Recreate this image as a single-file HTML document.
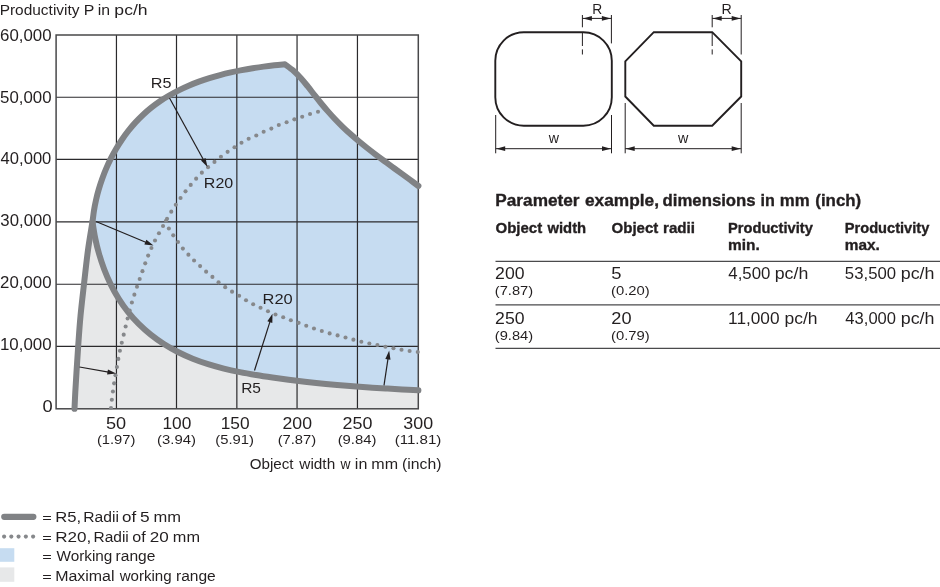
<!DOCTYPE html><html><head><meta charset="utf-8"><title>Productivity chart</title>
<style>html,body{margin:0;padding:0;background:#fff}svg{display:block}text{font-family:"Liberation Sans",sans-serif;fill:#231f20}</style></head><body>
<svg width="940" height="587" viewBox="0 0 940 587">
<rect width="940" height="587" fill="#fff"/>
<path d="M74.50,408.80 C74.63,406.00 74.97,398.13 75.30,392.00 C75.63,385.87 76.02,379.67 76.50,372.00 C76.98,364.33 77.53,355.33 78.20,346.00 C78.87,336.67 79.53,326.33 80.50,316.00 C81.47,305.67 82.75,295.00 84.00,284.00 C85.25,273.00 86.58,260.42 88.00,250.00 C89.42,239.58 91.75,226.25 92.50,221.50 C92.93,224.18 94.00,232.22 95.08,237.56 C96.16,242.90 97.44,248.27 98.96,253.54 C100.47,258.81 102.20,264.07 104.15,269.20 C106.11,274.33 108.29,279.41 110.70,284.31 C113.11,289.21 115.75,294.03 118.62,298.62 C121.50,303.22 124.60,307.69 127.95,311.91 C131.29,316.13 134.89,320.15 138.69,323.94 C142.49,327.73 146.53,331.29 150.73,334.64 C154.92,337.98 159.33,341.11 163.87,344.01 C168.40,346.91 173.12,349.59 177.93,352.04 C182.74,354.50 187.70,356.72 192.72,358.74 C197.75,360.77 202.89,362.55 208.08,364.19 C213.27,365.83 218.55,367.26 223.86,368.59 C229.17,369.92 234.55,371.07 239.94,372.15 C245.32,373.23 250.75,374.17 256.17,375.08 C261.58,375.99 267.01,376.80 272.42,377.59 C277.83,378.37 283.23,379.10 288.62,379.80 C294.02,380.49 299.41,381.13 304.80,381.74 C310.19,382.35 315.57,382.92 320.96,383.45 C326.34,383.99 331.73,384.48 337.11,384.95 C342.50,385.42 347.89,385.86 353.28,386.27 C358.68,386.68 364.07,387.07 369.48,387.44 C374.89,387.81 380.30,388.15 385.72,388.48 C391.15,388.81 396.58,389.12 402.02,389.42 C407.47,389.73 415.67,390.15 418.40,390.30 L418.3,390.3 L418.3,408.8 L74.5,408.8 Z" fill="#e7e8e9"/>
<path d="M92.50,221.50 C92.74,219.69 93.36,214.26 93.95,210.66 C94.54,207.05 95.25,203.44 96.06,199.86 C96.87,196.28 97.79,192.71 98.82,189.18 C99.84,185.64 100.98,182.13 102.22,178.66 C103.46,175.19 104.80,171.75 106.25,168.37 C107.70,164.98 109.25,161.64 110.90,158.36 C112.56,155.08 114.31,151.85 116.17,148.70 C118.02,145.54 119.98,142.45 122.03,139.44 C124.08,136.43 126.23,133.49 128.48,130.65 C130.73,127.80 133.07,125.04 135.51,122.38 C137.95,119.72 140.48,117.14 143.11,114.69 C145.73,112.23 148.46,109.88 151.27,107.64 C154.07,105.40 156.98,103.27 159.95,101.25 C162.93,99.23 165.99,97.31 169.11,95.50 C172.24,93.68 175.44,91.96 178.69,90.34 C181.94,88.72 185.27,87.19 188.63,85.75 C191.99,84.31 195.42,82.96 198.87,81.69 C202.33,80.42 205.84,79.24 209.37,78.13 C212.90,77.02 216.47,75.99 220.05,75.03 C223.63,74.07 227.25,73.19 230.87,72.36 C234.49,71.54 238.13,70.79 241.76,70.09 C245.40,69.40 249.05,68.77 252.68,68.18 C256.32,67.60 259.95,67.08 263.57,66.61 C267.18,66.13 270.78,65.71 274.36,65.32 C277.93,64.94 283.23,64.47 285.00,64.30 C286.41,65.38 290.83,68.43 293.48,70.76 C296.14,73.09 298.56,75.66 300.94,78.27 C303.32,80.89 305.53,83.67 307.77,86.44 C310.00,89.21 312.13,92.08 314.34,94.88 C316.55,97.67 318.76,100.48 321.03,103.23 C323.29,105.97 325.59,108.69 327.94,111.36 C330.29,114.03 332.68,116.66 335.13,119.23 C337.57,121.81 340.07,124.33 342.63,126.80 C345.18,129.27 347.79,131.68 350.45,134.05 C353.10,136.42 355.81,138.74 358.54,141.02 C361.28,143.31 364.06,145.55 366.86,147.76 C369.66,149.98 372.50,152.16 375.34,154.32 C378.19,156.48 381.07,158.61 383.94,160.74 C386.82,162.86 389.72,164.96 392.60,167.07 C395.49,169.17 398.39,171.26 401.27,173.36 C404.15,175.45 407.03,177.54 409.88,179.65 C412.74,181.76 416.98,184.94 418.40,186.00 L418.3,186.0 L418.3,390.3 L418.40,390.30 C415.67,390.15 407.47,389.73 402.02,389.42 C396.58,389.12 391.15,388.81 385.72,388.48 C380.30,388.15 374.89,387.81 369.48,387.44 C364.07,387.07 358.68,386.68 353.28,386.27 C347.89,385.86 342.50,385.42 337.11,384.95 C331.73,384.48 326.34,383.99 320.96,383.45 C315.57,382.92 310.19,382.35 304.80,381.74 C299.41,381.13 294.02,380.49 288.62,379.80 C283.23,379.10 277.83,378.37 272.42,377.59 C267.01,376.80 261.58,375.99 256.17,375.08 C250.75,374.17 245.32,373.23 239.94,372.15 C234.55,371.07 229.17,369.92 223.86,368.59 C218.55,367.26 213.27,365.83 208.08,364.19 C202.89,362.55 197.75,360.77 192.72,358.74 C187.70,356.72 182.74,354.50 177.93,352.04 C173.12,349.59 168.40,346.91 163.87,344.01 C159.33,341.11 154.92,337.98 150.73,334.64 C146.53,331.29 142.49,327.73 138.69,323.94 C134.89,320.15 131.29,316.13 127.95,311.91 C124.60,307.69 121.50,303.22 118.62,298.62 C115.75,294.03 113.11,289.21 110.70,284.31 C108.29,279.41 106.11,274.33 104.15,269.20 C102.20,264.07 100.47,258.81 98.96,253.54 C97.44,248.27 96.16,242.90 95.08,237.56 C94.00,232.22 92.93,224.18 92.50,221.50 Z" fill="#c6dcf1"/>
<line x1="116.45" y1="35.0" x2="116.45" y2="408.8" stroke="#2b2a2c" stroke-width="1.2"/>
<line x1="176.5" y1="35.0" x2="176.5" y2="408.8" stroke="#2b2a2c" stroke-width="1.2"/>
<line x1="236.85" y1="35.0" x2="236.85" y2="408.8" stroke="#2b2a2c" stroke-width="1.2"/>
<line x1="297.05" y1="35.0" x2="297.05" y2="408.8" stroke="#2b2a2c" stroke-width="1.2"/>
<line x1="357.45" y1="35.0" x2="357.45" y2="408.8" stroke="#2b2a2c" stroke-width="1.2"/>
<line x1="56.1" y1="97.25" x2="418.3" y2="97.25" stroke="#2b2a2c" stroke-width="1.2"/>
<line x1="56.1" y1="159.45" x2="418.3" y2="159.45" stroke="#2b2a2c" stroke-width="1.2"/>
<line x1="56.1" y1="221.95" x2="418.3" y2="221.95" stroke="#2b2a2c" stroke-width="1.2"/>
<line x1="56.1" y1="284.25" x2="418.3" y2="284.25" stroke="#2b2a2c" stroke-width="1.2"/>
<line x1="56.1" y1="346.45" x2="418.3" y2="346.45" stroke="#2b2a2c" stroke-width="1.2"/>
<rect x="56.1" y="35.0" width="362.20" height="373.80" fill="none" stroke="#48484a" stroke-width="1.5"/>
<path d="M74.50,408.80 C74.63,406.00 74.97,398.13 75.30,392.00 C75.63,385.87 76.02,379.67 76.50,372.00 C76.98,364.33 77.53,355.33 78.20,346.00 C78.87,336.67 79.53,326.33 80.50,316.00 C81.47,305.67 82.75,295.00 84.00,284.00 C85.25,273.00 86.58,260.42 88.00,250.00 C89.42,239.58 91.51,228.06 92.50,221.50 C93.49,214.94 93.36,214.26 93.95,210.66 C94.54,207.05 95.25,203.44 96.06,199.86 C96.87,196.28 97.79,192.71 98.82,189.18 C99.84,185.64 100.98,182.13 102.22,178.66 C103.46,175.19 104.80,171.75 106.25,168.37 C107.70,164.98 109.25,161.64 110.90,158.36 C112.56,155.08 114.31,151.85 116.17,148.70 C118.02,145.54 119.98,142.45 122.03,139.44 C124.08,136.43 126.23,133.49 128.48,130.65 C130.73,127.80 133.07,125.04 135.51,122.38 C137.95,119.72 140.48,117.14 143.11,114.69 C145.73,112.23 148.46,109.88 151.27,107.64 C154.07,105.40 156.98,103.27 159.95,101.25 C162.93,99.23 165.99,97.31 169.11,95.50 C172.24,93.68 175.44,91.96 178.69,90.34 C181.94,88.72 185.27,87.19 188.63,85.75 C191.99,84.31 195.42,82.96 198.87,81.69 C202.33,80.42 205.84,79.24 209.37,78.13 C212.90,77.02 216.47,75.99 220.05,75.03 C223.63,74.07 227.25,73.19 230.87,72.36 C234.49,71.54 238.13,70.79 241.76,70.09 C245.40,69.40 249.05,68.77 252.68,68.18 C256.32,67.60 259.95,67.08 263.57,66.61 C267.18,66.13 270.78,65.71 274.36,65.32 C277.93,64.94 283.23,64.47 285.00,64.30 C286.41,65.38 290.83,68.43 293.48,70.76 C296.14,73.09 298.56,75.66 300.94,78.27 C303.32,80.89 305.53,83.67 307.77,86.44 C310.00,89.21 312.13,92.08 314.34,94.88 C316.55,97.67 318.76,100.48 321.03,103.23 C323.29,105.97 325.59,108.69 327.94,111.36 C330.29,114.03 332.68,116.66 335.13,119.23 C337.57,121.81 340.07,124.33 342.63,126.80 C345.18,129.27 347.79,131.68 350.45,134.05 C353.10,136.42 355.81,138.74 358.54,141.02 C361.28,143.31 364.06,145.55 366.86,147.76 C369.66,149.98 372.50,152.16 375.34,154.32 C378.19,156.48 381.07,158.61 383.94,160.74 C386.82,162.86 389.72,164.96 392.60,167.07 C395.49,169.17 398.39,171.26 401.27,173.36 C404.15,175.45 407.03,177.54 409.88,179.65 C412.74,181.76 416.98,184.94 418.40,186.00" fill="none" stroke="#808285" stroke-width="6.0" stroke-linecap="round" stroke-linejoin="round"/>
<path d="M92.50,221.50 C92.93,224.18 94.00,232.22 95.08,237.56 C96.16,242.90 97.44,248.27 98.96,253.54 C100.47,258.81 102.20,264.07 104.15,269.20 C106.11,274.33 108.29,279.41 110.70,284.31 C113.11,289.21 115.75,294.03 118.62,298.62 C121.50,303.22 124.60,307.69 127.95,311.91 C131.29,316.13 134.89,320.15 138.69,323.94 C142.49,327.73 146.53,331.29 150.73,334.64 C154.92,337.98 159.33,341.11 163.87,344.01 C168.40,346.91 173.12,349.59 177.93,352.04 C182.74,354.50 187.70,356.72 192.72,358.74 C197.75,360.77 202.89,362.55 208.08,364.19 C213.27,365.83 218.55,367.26 223.86,368.59 C229.17,369.92 234.55,371.07 239.94,372.15 C245.32,373.23 250.75,374.17 256.17,375.08 C261.58,375.99 267.01,376.80 272.42,377.59 C277.83,378.37 283.23,379.10 288.62,379.80 C294.02,380.49 299.41,381.13 304.80,381.74 C310.19,382.35 315.57,382.92 320.96,383.45 C326.34,383.99 331.73,384.48 337.11,384.95 C342.50,385.42 347.89,385.86 353.28,386.27 C358.68,386.68 364.07,387.07 369.48,387.44 C374.89,387.81 380.30,388.15 385.72,388.48 C391.15,388.81 396.58,389.12 402.02,389.42 C407.47,389.73 415.67,390.15 418.40,390.30" fill="none" stroke="#808285" stroke-width="6.0" stroke-linecap="round" stroke-linejoin="round"/>
<g fill="#86888b"><circle cx="111.00" cy="408.00" r="2.05"/><circle cx="111.84" cy="399.76" r="2.05"/><circle cx="112.92" cy="391.55" r="2.05"/><circle cx="114.10" cy="383.36" r="2.05"/><circle cx="115.47" cy="375.19" r="2.05"/><circle cx="116.92" cy="367.04" r="2.05"/><circle cx="118.34" cy="358.88" r="2.05"/><circle cx="119.91" cy="350.75" r="2.05"/><circle cx="121.76" cy="342.68" r="2.05"/><circle cx="123.71" cy="334.63" r="2.05"/><circle cx="125.63" cy="326.57" r="2.05"/><circle cx="127.62" cy="318.53" r="2.05"/><circle cx="129.67" cy="310.51" r="2.05"/><circle cx="131.89" cy="302.53" r="2.05"/><circle cx="134.37" cy="294.63" r="2.05"/><circle cx="136.99" cy="286.78" r="2.05"/><circle cx="139.69" cy="278.95" r="2.05"/><circle cx="142.45" cy="271.14" r="2.05"/><circle cx="145.22" cy="263.34" r="2.05"/><circle cx="148.16" cy="255.60" r="2.05"/><circle cx="151.42" cy="247.99" r="2.05"/><circle cx="155.00" cy="240.52" r="2.05"/><circle cx="158.96" cy="233.25" r="2.05"/><circle cx="163.04" cy="226.04" r="2.05"/><circle cx="167.05" cy="218.80" r="2.05"/><circle cx="171.27" cy="211.67" r="2.05"/><circle cx="175.80" cy="204.74" r="2.05"/><circle cx="180.56" cy="197.97" r="2.05"/><circle cx="185.52" cy="191.33" r="2.05"/><circle cx="190.72" cy="184.89" r="2.05"/><circle cx="196.14" cy="178.63" r="2.05"/><circle cx="201.86" cy="172.65" r="2.05"/><circle cx="208.05" cy="167.15" r="2.05"/><circle cx="214.47" cy="161.91" r="2.05"/><circle cx="220.95" cy="156.76" r="2.05"/><circle cx="227.62" cy="151.86" r="2.05"/><circle cx="234.51" cy="147.27" r="2.05"/><circle cx="241.49" cy="142.80" r="2.05"/><circle cx="248.66" cy="138.68" r="2.05"/><circle cx="256.30" cy="135.49" r="2.05"/><circle cx="263.66" cy="131.70" r="2.05"/><circle cx="271.34" cy="128.60" r="2.05"/><circle cx="278.79" cy="124.98" r="2.05"/><circle cx="286.61" cy="122.28" r="2.05"/><circle cx="294.36" cy="119.37" r="2.05"/><circle cx="302.20" cy="116.68" r="2.05"/><circle cx="310.03" cy="113.99" r="2.05"/><circle cx="318.00" cy="111.75" r="2.05"/></g>
<g fill="#86888b"><circle cx="166.00" cy="220.75" r="2.05"/><circle cx="168.85" cy="228.43" r="2.05"/><circle cx="173.23" cy="235.34" r="2.05"/><circle cx="178.00" cy="242.01" r="2.05"/><circle cx="182.87" cy="248.60" r="2.05"/><circle cx="188.41" cy="254.64" r="2.05"/><circle cx="194.06" cy="260.57" r="2.05"/><circle cx="200.09" cy="266.12" r="2.05"/><circle cx="206.12" cy="271.67" r="2.05"/><circle cx="212.41" cy="276.92" r="2.05"/><circle cx="218.56" cy="282.35" r="2.05"/><circle cx="225.20" cy="287.14" r="2.05"/><circle cx="232.05" cy="291.64" r="2.05"/><circle cx="239.13" cy="295.77" r="2.05"/><circle cx="246.02" cy="300.21" r="2.05"/><circle cx="253.17" cy="304.20" r="2.05"/><circle cx="260.54" cy="307.78" r="2.05"/><circle cx="267.97" cy="311.26" r="2.05"/><circle cx="275.48" cy="314.54" r="2.05"/><circle cx="283.19" cy="317.30" r="2.05"/><circle cx="290.84" cy="320.26" r="2.05"/><circle cx="298.61" cy="322.86" r="2.05"/><circle cx="306.25" cy="325.81" r="2.05"/><circle cx="313.97" cy="328.57" r="2.05"/><circle cx="321.81" cy="330.94" r="2.05"/><circle cx="329.63" cy="333.40" r="2.05"/><circle cx="337.58" cy="335.39" r="2.05"/><circle cx="345.52" cy="337.44" r="2.05"/><circle cx="353.41" cy="339.66" r="2.05"/><circle cx="361.34" cy="341.71" r="2.05"/><circle cx="369.34" cy="343.47" r="2.05"/><circle cx="377.40" cy="344.98" r="2.05"/><circle cx="385.41" cy="346.73" r="2.05"/><circle cx="393.46" cy="348.24" r="2.05"/><circle cx="401.52" cy="349.75" r="2.05"/><circle cx="409.61" cy="351.02" r="2.05"/><circle cx="417.75" cy="352.00" r="2.05"/></g>
<line x1="169.5" y1="98" x2="203.74" y2="160.17" stroke="#231f20" stroke-width="1.2"/><polygon points="207.50,167.00 200.98,160.55 205.53,158.04" fill="#231f20"/>
<line x1="96" y1="221.5" x2="146.30" y2="242.50" stroke="#231f20" stroke-width="1.2"/><polygon points="153.50,245.50 144.38,244.51 146.38,239.71" fill="#231f20"/>
<line x1="79.5" y1="367" x2="108.52" y2="372.14" stroke="#231f20" stroke-width="1.2"/><polygon points="116.20,373.50 107.08,374.53 107.99,369.41" fill="#231f20"/>
<line x1="254.5" y1="370.5" x2="270.14" y2="321.18" stroke="#231f20" stroke-width="1.2"/><polygon points="272.50,313.75 272.32,322.92 267.36,321.35" fill="#231f20"/>
<line x1="384" y1="385.4" x2="388.05" y2="358.31" stroke="#231f20" stroke-width="1.2"/><polygon points="389.20,350.60 390.47,359.69 385.33,358.92" fill="#231f20"/>
<text y="14.80" font-weight="400"><tspan x="-0.39" font-size="14.9" textLength="79.89" lengthAdjust="spacingAndGlyphs">Productivity</tspan> <tspan x="83.78" font-size="14.9" textLength="10.61" lengthAdjust="spacingAndGlyphs">P</tspan> <tspan x="97.65" font-size="14.9" textLength="12.29" lengthAdjust="spacingAndGlyphs">in</tspan> <tspan x="114.38" font-size="14.9" textLength="33.30" lengthAdjust="spacingAndGlyphs">pc/h</tspan></text>
<text y="40.70" font-weight="400"><tspan x="0.11" font-size="15.8" textLength="51.48" lengthAdjust="spacingAndGlyphs">60,000</tspan></text>
<text y="102.54" font-weight="400"><tspan x="0.11" font-size="15.8" textLength="51.48" lengthAdjust="spacingAndGlyphs">50,000</tspan></text>
<text y="164.38" font-weight="400"><tspan x="0.61" font-size="15.8" textLength="50.72" lengthAdjust="spacingAndGlyphs">40,000</tspan></text>
<text y="226.22" font-weight="400"><tspan x="0.36" font-size="15.8" textLength="51.22" lengthAdjust="spacingAndGlyphs">30,000</tspan></text>
<text y="288.06" font-weight="400"><tspan x="0.11" font-size="15.8" textLength="51.48" lengthAdjust="spacingAndGlyphs">20,000</tspan></text>
<text y="349.90" font-weight="400"><tspan x="-0.10" font-size="15.8" textLength="51.70" lengthAdjust="spacingAndGlyphs">10,000</tspan></text>
<text y="411.74" font-weight="400"><tspan x="42.51" font-size="15.8" textLength="10.19" lengthAdjust="spacingAndGlyphs">0</tspan></text>
<text y="429.00" font-weight="400"><tspan x="106.01" font-size="15.8" textLength="20.18" lengthAdjust="spacingAndGlyphs">50</tspan></text>
<text y="443.50" font-weight="400"><tspan x="96.92" font-size="13.3" textLength="38.50" lengthAdjust="spacingAndGlyphs">(1.97)</tspan></text>
<text y="429.00" font-weight="400"><tspan x="162.44" font-size="15.8" textLength="28.87" lengthAdjust="spacingAndGlyphs">100</tspan></text>
<text y="443.50" font-weight="400"><tspan x="157.07" font-size="13.3" textLength="38.86" lengthAdjust="spacingAndGlyphs">(3.94)</tspan></text>
<text y="429.00" font-weight="400"><tspan x="220.69" font-size="15.8" textLength="28.87" lengthAdjust="spacingAndGlyphs">150</tspan></text>
<text y="443.50" font-weight="400"><tspan x="215.32" font-size="13.3" textLength="38.61" lengthAdjust="spacingAndGlyphs">(5.91)</tspan></text>
<text y="429.00" font-weight="400"><tspan x="282.51" font-size="15.8" textLength="29.48" lengthAdjust="spacingAndGlyphs">200</tspan></text>
<text y="443.50" font-weight="400"><tspan x="277.67" font-size="13.3" textLength="38.56" lengthAdjust="spacingAndGlyphs">(7.87)</tspan></text>
<text y="429.00" font-weight="400"><tspan x="342.61" font-size="15.8" textLength="29.88" lengthAdjust="spacingAndGlyphs">250</tspan></text>
<text y="443.50" font-weight="400"><tspan x="337.67" font-size="13.3" textLength="38.75" lengthAdjust="spacingAndGlyphs">(9.84)</tspan></text>
<text y="429.00" font-weight="400"><tspan x="403.31" font-size="15.8" textLength="29.78" lengthAdjust="spacingAndGlyphs">300</tspan></text>
<text y="443.50" font-weight="400"><tspan x="394.67" font-size="13.3" textLength="46.75" lengthAdjust="spacingAndGlyphs">(11.81)</tspan></text>
<text y="468.70" font-weight="400"><tspan x="249.66" font-size="14.9" textLength="43.89" lengthAdjust="spacingAndGlyphs">Object</tspan> <tspan x="299.30" font-size="14.9" textLength="35.88" lengthAdjust="spacingAndGlyphs">width</tspan> <tspan x="340.50" font-size="14.9" textLength="9.99" lengthAdjust="spacingAndGlyphs">w</tspan> <tspan x="354.84" font-size="14.9" textLength="12.50" lengthAdjust="spacingAndGlyphs">in</tspan> <tspan x="371.38" font-size="14.9" textLength="26.74" lengthAdjust="spacingAndGlyphs">mm</tspan> <tspan x="402.04" font-size="14.9" textLength="39.47" lengthAdjust="spacingAndGlyphs">(inch)</tspan></text>
<text y="87.60" font-weight="400"><tspan x="150.71" font-size="15.2" textLength="20.67" lengthAdjust="spacingAndGlyphs">R5</tspan></text>
<text y="187.70" font-weight="400"><tspan x="203.83" font-size="15.2" textLength="29.39" lengthAdjust="spacingAndGlyphs">R20</tspan></text>
<text y="303.90" font-weight="400"><tspan x="262.61" font-size="15.2" textLength="30.16" lengthAdjust="spacingAndGlyphs">R20</tspan></text>
<text y="392.60" font-weight="400"><tspan x="241.20" font-size="15.2" textLength="19.78" lengthAdjust="spacingAndGlyphs">R5</tspan></text>
<text y="521.70" font-weight="400"><tspan x="42.19" font-size="12.5" textLength="9.52" lengthAdjust="spacingAndGlyphs">=</tspan> <tspan x="55.17" font-size="15.2" textLength="25.93" lengthAdjust="spacingAndGlyphs">R5,</tspan> <tspan x="83.33" font-size="14.9" textLength="35.60" lengthAdjust="spacingAndGlyphs">Radii</tspan> <tspan x="122.13" font-size="14.9" textLength="14.16" lengthAdjust="spacingAndGlyphs">of</tspan> <tspan x="140.13" font-size="15.2" textLength="9.63" lengthAdjust="spacingAndGlyphs">5</tspan> <tspan x="153.49" font-size="14.9" textLength="27.53" lengthAdjust="spacingAndGlyphs">mm</tspan></text>
<text y="541.70" font-weight="400"><tspan x="42.19" font-size="12.5" textLength="9.52" lengthAdjust="spacingAndGlyphs">=</tspan> <tspan x="55.19" font-size="15.2" textLength="36.08" lengthAdjust="spacingAndGlyphs">R20,</tspan> <tspan x="93.53" font-size="14.9" textLength="35.29" lengthAdjust="spacingAndGlyphs">Radii</tspan> <tspan x="132.30" font-size="14.9" textLength="13.40" lengthAdjust="spacingAndGlyphs">of</tspan> <tspan x="149.74" font-size="15.2" textLength="19.02" lengthAdjust="spacingAndGlyphs">20</tspan> <tspan x="172.88" font-size="14.9" textLength="27.13" lengthAdjust="spacingAndGlyphs">mm</tspan></text>
<text y="561.30" font-weight="400"><tspan x="42.19" font-size="12.5" textLength="9.52" lengthAdjust="spacingAndGlyphs">=</tspan> <tspan x="56.50" font-size="14.9" textLength="55.88" lengthAdjust="spacingAndGlyphs">Working</tspan> <tspan x="115.55" font-size="14.9" textLength="39.80" lengthAdjust="spacingAndGlyphs">range</tspan></text>
<text y="581.00" font-weight="400"><tspan x="42.19" font-size="12.5" textLength="9.52" lengthAdjust="spacingAndGlyphs">=</tspan> <tspan x="55.24" font-size="14.9" textLength="59.27" lengthAdjust="spacingAndGlyphs">Maximal</tspan> <tspan x="119.65" font-size="14.9" textLength="52.03" lengthAdjust="spacingAndGlyphs">working</tspan> <tspan x="176.00" font-size="14.9" textLength="39.75" lengthAdjust="spacingAndGlyphs">range</tspan></text>
<text y="13.70" font-weight="400"><tspan x="592.18" font-size="14.6" textLength="9.97" lengthAdjust="spacingAndGlyphs">R</tspan></text>
<text y="13.70" font-weight="400"><tspan x="721.59" font-size="14.6" textLength="10.28" lengthAdjust="spacingAndGlyphs">R</tspan></text>
<text y="143.40" font-weight="400"><tspan x="548.70" font-size="15.2" textLength="10.23" lengthAdjust="spacingAndGlyphs">w</tspan></text>
<text y="143.40" font-weight="400"><tspan x="678.07" font-size="15.2" textLength="10.35" lengthAdjust="spacingAndGlyphs">w</tspan></text>
<text y="206.30" font-weight="700" stroke="#231f20" stroke-width="0.35"><tspan x="495.27" font-size="16.8" textLength="84.32" lengthAdjust="spacingAndGlyphs">Parameter</tspan> <tspan x="584.96" font-size="16.8" textLength="74.03" lengthAdjust="spacingAndGlyphs">example,</tspan> <tspan x="662.51" font-size="16.8" textLength="93.18" lengthAdjust="spacingAndGlyphs">dimensions</tspan> <tspan x="760.51" font-size="16.8" textLength="14.33" lengthAdjust="spacingAndGlyphs">in</tspan> <tspan x="779.86" font-size="16.8" textLength="29.83" lengthAdjust="spacingAndGlyphs">mm</tspan> <tspan x="815.32" font-size="16.8" textLength="45.87" lengthAdjust="spacingAndGlyphs">(inch)</tspan></text>
<text y="233.10" font-weight="700" stroke="#231f20" stroke-width="0.35"><tspan x="495.51" font-size="15.0" textLength="46.69" lengthAdjust="spacingAndGlyphs">Object</tspan> <tspan x="547.44" font-size="15.0" textLength="38.69" lengthAdjust="spacingAndGlyphs">width</tspan></text>
<text y="233.10" font-weight="700" stroke="#231f20" stroke-width="0.35"><tspan x="611.51" font-size="15.0" textLength="46.79" lengthAdjust="spacingAndGlyphs">Object</tspan> <tspan x="662.99" font-size="15.0" textLength="32.01" lengthAdjust="spacingAndGlyphs">radii</tspan></text>
<text y="233.10" font-weight="700" stroke="#231f20" stroke-width="0.35"><tspan x="727.96" font-size="15.0" textLength="84.85" lengthAdjust="spacingAndGlyphs">Productivity</tspan></text>
<text y="249.60" font-weight="700" stroke="#231f20" stroke-width="0.35"><tspan x="728.04" font-size="15.0" textLength="31.76" lengthAdjust="spacingAndGlyphs">min.</tspan></text>
<text y="233.10" font-weight="700" stroke="#231f20" stroke-width="0.35"><tspan x="844.76" font-size="15.0" textLength="84.54" lengthAdjust="spacingAndGlyphs">Productivity</tspan></text>
<text y="249.60" font-weight="700" stroke="#231f20" stroke-width="0.35"><tspan x="844.74" font-size="15.0" textLength="35.06" lengthAdjust="spacingAndGlyphs">max.</tspan></text>
<text y="278.60" font-weight="400"><tspan x="495.08" font-size="16.3" textLength="29.43" lengthAdjust="spacingAndGlyphs">200</tspan></text>
<text y="294.70" font-weight="400"><tspan x="494.80" font-size="13.7" textLength="38.35" lengthAdjust="spacingAndGlyphs">(7.87)</tspan></text>
<text y="278.60" font-weight="400"><tspan x="611.38" font-size="16.3" textLength="10.24" lengthAdjust="spacingAndGlyphs">5</tspan></text>
<text y="294.70" font-weight="400"><tspan x="611.05" font-size="13.7" textLength="38.70" lengthAdjust="spacingAndGlyphs">(0.20)</tspan></text>
<text y="278.60" font-weight="400"><tspan x="728.29" font-size="16.3" textLength="42.06" lengthAdjust="spacingAndGlyphs">4,500</tspan> <tspan x="774.73" font-size="16.0" textLength="33.54" lengthAdjust="spacingAndGlyphs">pc/h</tspan></text>
<text y="278.60" font-weight="400"><tspan x="844.89" font-size="16.3" textLength="51.18" lengthAdjust="spacingAndGlyphs">53,500</tspan> <tspan x="900.73" font-size="16.0" textLength="33.74" lengthAdjust="spacingAndGlyphs">pc/h</tspan></text>
<text y="323.70" font-weight="400"><tspan x="495.08" font-size="16.3" textLength="29.43" lengthAdjust="spacingAndGlyphs">250</tspan></text>
<text y="339.60" font-weight="400"><tspan x="494.80" font-size="13.7" textLength="38.35" lengthAdjust="spacingAndGlyphs">(9.84)</tspan></text>
<text y="323.70" font-weight="400"><tspan x="611.38" font-size="16.3" textLength="20.23" lengthAdjust="spacingAndGlyphs">20</tspan></text>
<text y="339.60" font-weight="400"><tspan x="611.05" font-size="13.7" textLength="38.70" lengthAdjust="spacingAndGlyphs">(0.79)</tspan></text>
<text y="323.70" font-weight="400"><tspan x="728.08" font-size="16.3" textLength="51.49" lengthAdjust="spacingAndGlyphs">11,000</tspan> <tspan x="784.43" font-size="16.0" textLength="33.04" lengthAdjust="spacingAndGlyphs">pc/h</tspan></text>
<text y="323.70" font-weight="400"><tspan x="845.39" font-size="16.3" textLength="50.67" lengthAdjust="spacingAndGlyphs">43,000</tspan> <tspan x="900.73" font-size="16.0" textLength="33.74" lengthAdjust="spacingAndGlyphs">pc/h</tspan></text>
<line x1="4.25" y1="516.85" x2="33.35" y2="516.85" stroke="#808285" stroke-width="6.2" stroke-linecap="round"/>
<circle cx="4.1" cy="536.6" r="2.05" fill="#86888b"/>
<circle cx="11.3" cy="536.6" r="2.05" fill="#86888b"/>
<circle cx="18.55" cy="536.6" r="2.05" fill="#86888b"/>
<circle cx="25.85" cy="536.6" r="2.05" fill="#86888b"/>
<circle cx="33.1" cy="536.6" r="2.05" fill="#86888b"/>
<rect x="0" y="548.2" width="14.3" height="13.6" fill="#c6dcf1"/>
<rect x="0" y="567.4" width="14.3" height="14.4" fill="#e7e8e9"/>
<rect x="495.3" y="32.2" width="116.5" height="93.5" rx="28.5" ry="28.5" fill="none" stroke="#231f20" stroke-width="1.9"/>
<polygon points="653.8,32.2 712.2,32.2 741.2,61.3 741.2,96.5 712.2,125.7 653.8,125.7 625.3,96.5 625.3,61.3" fill="none" stroke="#231f20" stroke-width="1.9" stroke-linejoin="miter"/>
<line x1="582.4" y1="15" x2="582.4" y2="27.3" stroke="#231f20" stroke-width="1"/><line x1="582.4" y1="32.7" x2="582.4" y2="46" stroke="#231f20" stroke-width="1"/><line x1="582.4" y1="49.4" x2="582.4" y2="54.5" stroke="#231f20" stroke-width="1"/><line x1="611.4" y1="15" x2="611.4" y2="43.4" stroke="#231f20" stroke-width="1"/><line x1="582.4" y1="18.4" x2="611.4" y2="18.4" stroke="#231f20" stroke-width="1"/><polygon points="582.9,18.4 591.9,15.999999999999998 591.9,20.799999999999997" fill="#231f20"/><polygon points="610.9,18.4 601.9,15.999999999999998 601.9,20.799999999999997" fill="#231f20"/>
<line x1="712.2" y1="15" x2="712.2" y2="27.3" stroke="#231f20" stroke-width="1"/><line x1="712.2" y1="32.7" x2="712.2" y2="46" stroke="#231f20" stroke-width="1"/><line x1="712.2" y1="49.4" x2="712.2" y2="54.5" stroke="#231f20" stroke-width="1"/><line x1="741.2" y1="15" x2="741.2" y2="54.5" stroke="#231f20" stroke-width="1"/><line x1="712.2" y1="18.4" x2="741.2" y2="18.4" stroke="#231f20" stroke-width="1"/><polygon points="712.7,18.4 721.7,15.999999999999998 721.7,20.799999999999997" fill="#231f20"/><polygon points="740.7,18.4 731.7,15.999999999999998 731.7,20.799999999999997" fill="#231f20"/>
<line x1="495.7" y1="115" x2="495.7" y2="153.3" stroke="#231f20" stroke-width="1"/><line x1="611.5" y1="115" x2="611.5" y2="153.3" stroke="#231f20" stroke-width="1"/><line x1="495.7" y1="148.7" x2="611.5" y2="148.7" stroke="#231f20" stroke-width="1"/><polygon points="496.2,148.7 505.2,146.29999999999998 505.2,151.1" fill="#231f20"/><polygon points="611.0,148.7 602.0,146.29999999999998 602.0,151.1" fill="#231f20"/>
<line x1="625.2" y1="103" x2="625.2" y2="153.3" stroke="#231f20" stroke-width="1"/><line x1="741.2" y1="103" x2="741.2" y2="153.3" stroke="#231f20" stroke-width="1"/><line x1="625.2" y1="148.7" x2="741.2" y2="148.7" stroke="#231f20" stroke-width="1"/><polygon points="625.7,148.7 634.7,146.29999999999998 634.7,151.1" fill="#231f20"/><polygon points="740.7,148.7 731.7,146.29999999999998 731.7,151.1" fill="#231f20"/>
<line x1="495.5" y1="261.4" x2="940" y2="261.4" stroke="#4a4a4c" stroke-width="1.3"/>
<line x1="495.5" y1="304.8" x2="940" y2="304.8" stroke="#4a4a4c" stroke-width="1.3"/>
<line x1="495.5" y1="348.4" x2="940" y2="348.4" stroke="#4a4a4c" stroke-width="1.3"/>
</svg></body></html>
